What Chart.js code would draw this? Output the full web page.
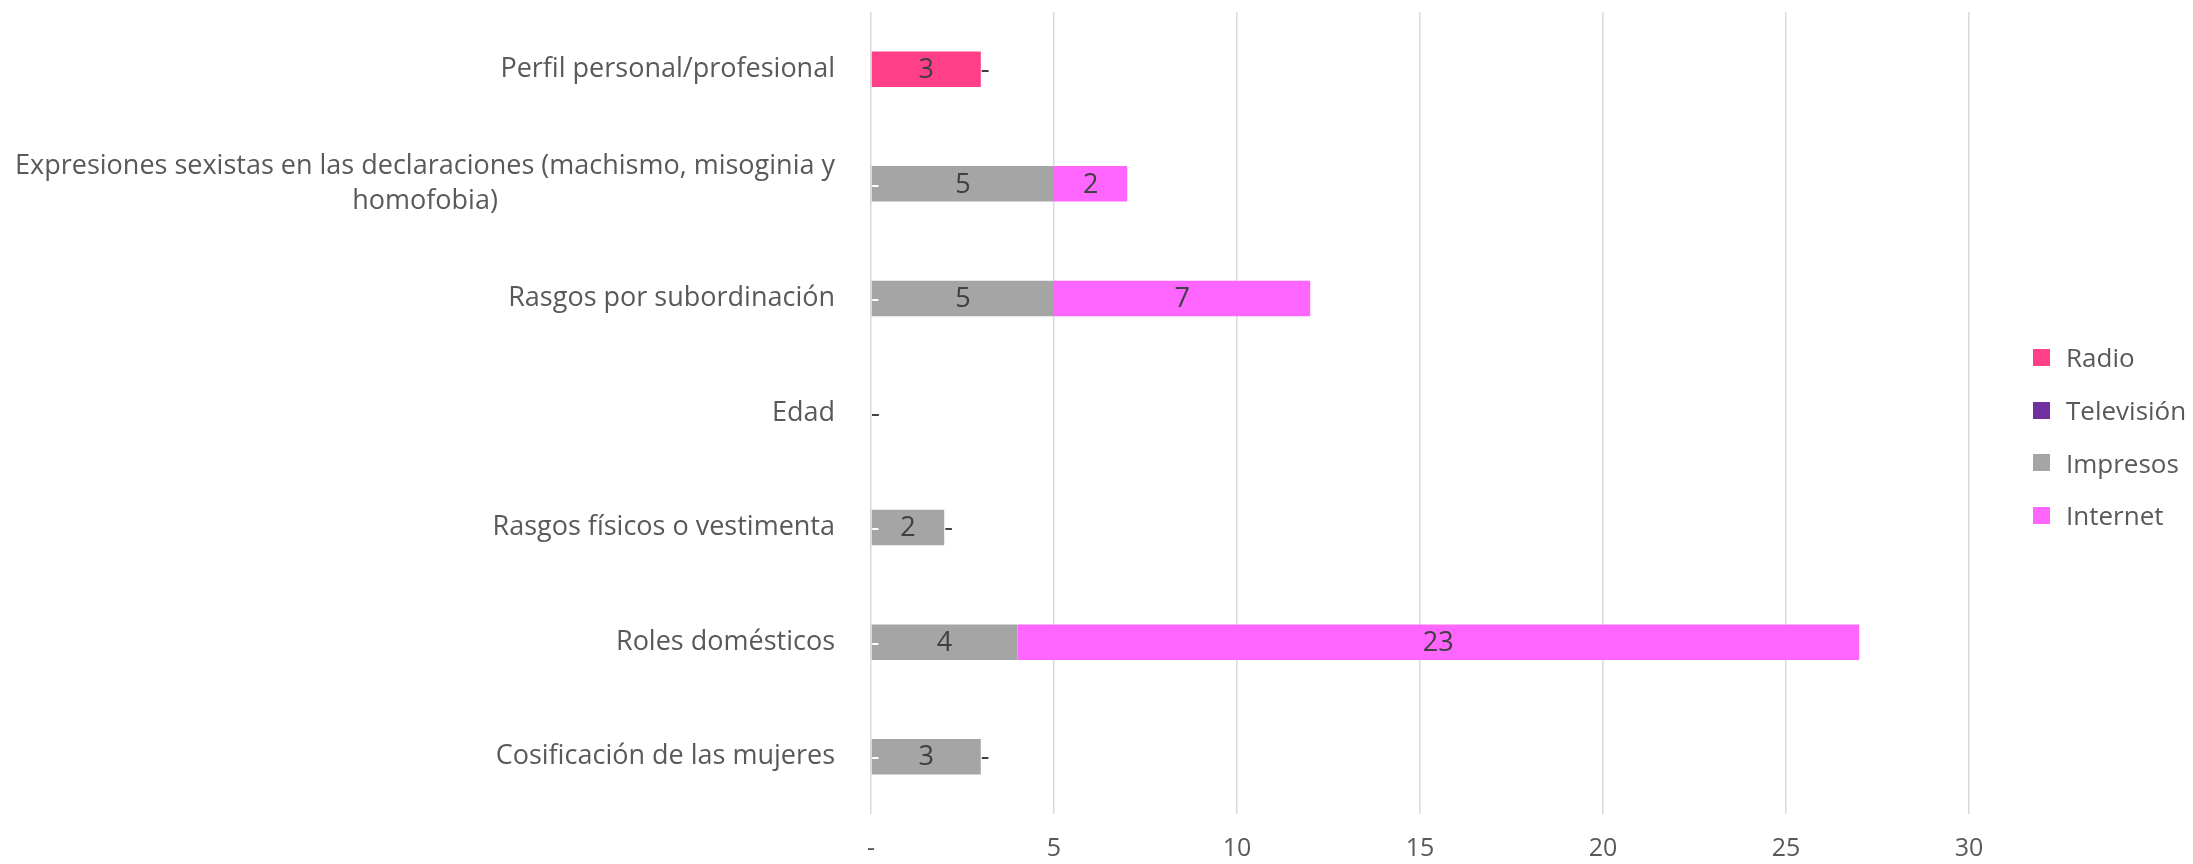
<!DOCTYPE html>
<html lang="es">
<head>
  <meta charset="UTF-8" />
  <title>Estereotipos por tipo de medio</title>
  <style>
    body {
      margin: 0;
      background: #fff;
      font-family: 'Open Sans', sans-serif;
      overflow: hidden;
    }
    #wrap {
      position: relative;
      width: 2193px;
      height: 864px;
    }
    #legend {
      position: absolute;
      left: 2033px;
      top: 331px;
      margin: 0;
      padding: 0;
      list-style: none;
    }
    #legend li {
      display: flex;
      align-items: center;
      height: 52.7px;
      font-size: 26px;
      color: #595959;
      white-space: nowrap;
    }
    #legend li span {
      display: inline-block;
      width: 17px;
      height: 17px;
      margin-right: 16px;
    }
  </style>
</head>
<body>
  <div id="wrap">
    <canvas id="chart"></canvas>
    <ul id="legend"></ul>
  </div>

  <script src="https://cdn.jsdelivr.net/npm/chart.js"></script>
  <script>
    // categorías (de arriba hacia abajo)
    const categories = [
      'Perfil personal/profesional',
      ['Expresiones sexistas en las declaraciones (machismo, misoginia y', 'homofobia)'],
      'Rasgos por subordinación',
      'Edad',
      'Rasgos físicos o vestimenta',
      'Roles domésticos',
      'Cosificación de las mujeres'
    ];

    const radio      = [3, 0, 0, 0, 0, 0, 0];
    const television = [0, 0, 0, 0, 0, 0, 0];
    const impresos   = [0, 5, 5, 0, 2, 4, 3];
    const internet   = [0, 2, 7, 0, 0, 23, 0];

    const seriesNames = ['Radio', 'Televisión', 'Impresos', 'Internet'];
    const seriesColors = ['#FF3F88', '#7030A0', '#A5A5A5', '#FF66FF'];
    const labelColors = ['#404040', '#FFFFFF', '#404040', '#404040'];

    const xMin = 0;
    const xMax = 30;
    const xStep = 5;

    Chart.defaults.font.family = "'Open Sans', sans-serif";
    Chart.defaults.color = '#595959';

    // etiquetas de valor: ceros como "-" en el extremo de la pila
    const valueLabels = {
      id: 'valueLabels',
      afterDatasetsDraw(chart) {
        const ctx = chart.ctx;
        ctx.save();
        ctx.font = "27px 'Open Sans', sans-serif";
        ctx.textBaseline = 'middle';
        chart.data.datasets.forEach((ds, i) => {
          const meta = chart.getDatasetMeta(i);
          ctx.fillStyle = labelColors[i];
          meta.data.forEach((bar, j) => {
            const v = ds.data[j];
            if (v === 0) {
              ctx.textAlign = 'left';
              ctx.fillText('-', bar.x, bar.y + 1);
            } else {
              ctx.textAlign = 'center';
              ctx.fillText(String(v), (bar.x + bar.base) / 2, bar.y + 1);
            }
          });
        });
        ctx.restore();
      }
    };

    // nombres de categoría: bloque alineado a la derecha, líneas centradas
    const categoryLabels = {
      id: 'categoryLabels',
      afterDraw(chart) {
        const ctx = chart.ctx;
        const yScale = chart.scales.y;
        const right = chart.chartArea.left - 36;
        const lineH = 35;
        ctx.save();
        ctx.font = "27px 'Open Sans', sans-serif";
        ctx.fillStyle = '#595959';
        ctx.textAlign = 'center';
        ctx.textBaseline = 'middle';
        chart.data.labels.forEach((lab, i) => {
          const lines = Array.isArray(lab) ? lab : [lab];
          const w = Math.max(...lines.map(l => ctx.measureText(l).width));
          const cx = right - w / 2;
          const y0 = yScale.getPixelForTick(i) - (lines.length - 1) * lineH / 2;
          lines.forEach((l, k) => ctx.fillText(l, cx, y0 + k * lineH));
        });
        ctx.restore();
      }
    };

    const ctx = document.getElementById('chart').getContext('2d');
    const chart = new Chart(ctx, {
      type: 'bar',
      data: {
        labels: categories,
        datasets: [radio, television, impresos, internet].map((d, i) => ({
          label: seriesNames[i],
          data: d,
          backgroundColor: seriesColors[i],
          borderWidth: 0,
          categoryPercentage: 1,
          barPercentage: 0.31
        }))
      },
      options: {
        indexAxis: 'y',
        responsive: true,
        maintainAspectRatio: false,
        animation: false,
        layout: { padding: { left: 0, right: 224, top: 12, bottom: 0 } },
        scales: {
          x: {
            stacked: true,
            min: xMin,
            max: xMax,
            ticks: {
              stepSize: xStep,
              padding: 20,
              font: { size: 25 },
              color: '#595959',
              callback: v => (v === 0 ? '-' : v)
            },
            grid: { color: '#D9D9D9', lineWidth: 1.5, drawTicks: false },
            border: { display: false },
            afterFit: scale => { scale.height = 50; }
          },
          y: {
            stacked: true,
            ticks: { display: false },
            grid: { display: false },
            border: { display: false },
            afterFit: scale => { scale.width = 871; }
          }
        },
        plugins: {
          legend: { display: false },
          tooltip: { enabled: false }
        }
      },
      plugins: [valueLabels, categoryLabels]
    });

    // leyenda en HTML a partir de los datasets
    const legendEl = document.getElementById('legend');
    chart.data.datasets.forEach(ds => {
      const li = document.createElement('li');
      const sw = document.createElement('span');
      sw.style.background = ds.backgroundColor;
      li.appendChild(sw);
      li.appendChild(document.createTextNode(ds.label));
      legendEl.appendChild(li);
    });
  </script>
</body>
</html>
